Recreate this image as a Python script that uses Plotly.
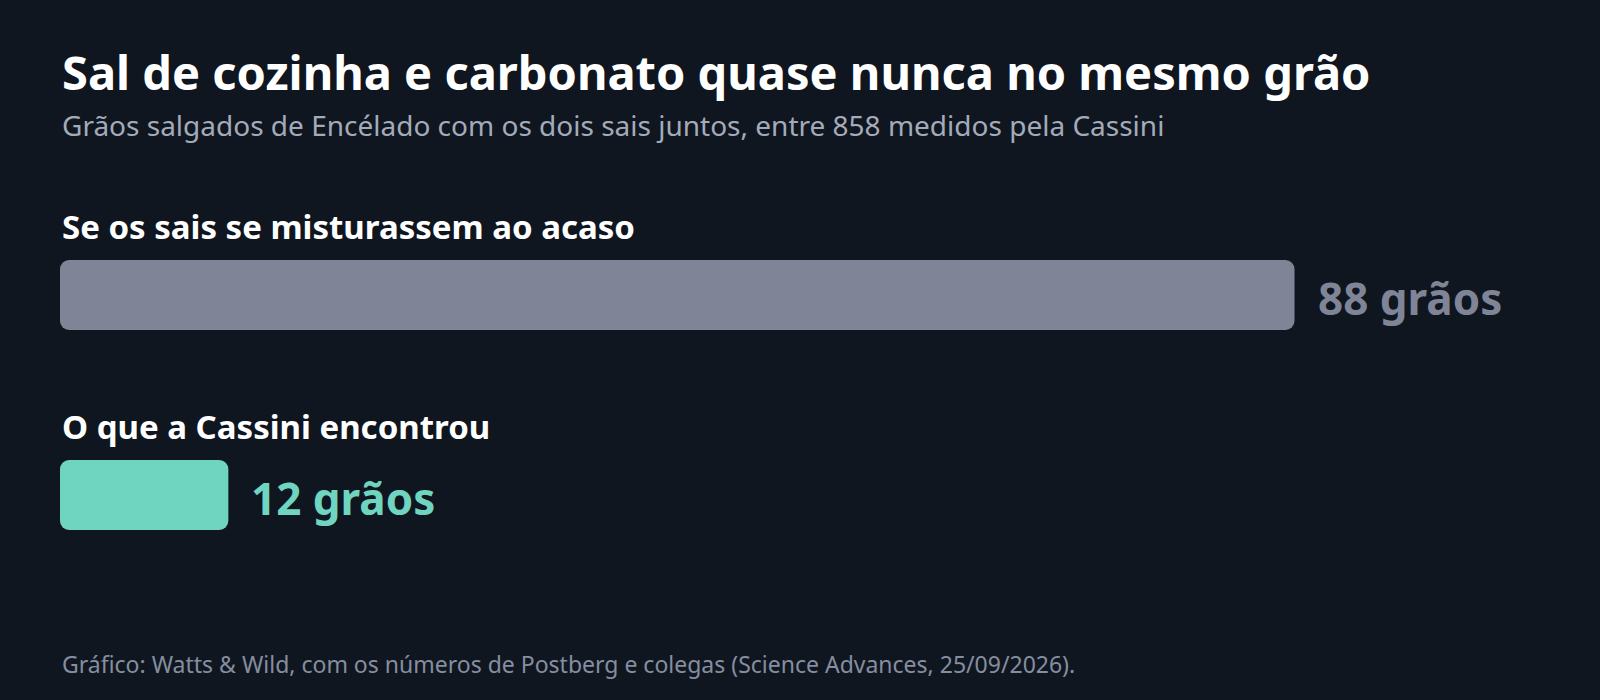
import plotly.graph_objects as go

# dados
categorias = ["Se os sais se misturassem ao acaso", "O que a Cassini encontrou"]
valores = [88, 12]
rotulos = ["88 grãos", "12 grãos"]
cores = ["#7f8597", "#6fd4c0"]

titulo = "Sal de cozinha e carbonato quase nunca no mesmo grão"
subtitulo = "Grãos salgados de Encélado com os dois sais juntos, entre 858 medidos pela Cassini"
fonte = "Gráfico: Watts & Wild, com os números de Postberg e colegas (Science Advances, 25/09/2026)."

FONT = "Noto Sans"
BG = "#10161f"
H = 700


def py(px):
    # pixel vertical -> coordenada paper
    return 1 - px / H


pos = list(range(len(categorias)))

fig = go.Figure()
# base explícita -> plotly arredonda os quatro cantos
fig.add_trace(go.Bar(
    x=valores, base=[0] * len(valores), y=pos, orientation="h", width=0.35,
    marker=dict(color=cores, line=dict(width=0)), hoverinfo="skip",
))

annotations = []
for i, (cat, val, rot, cor) in enumerate(zip(categorias, valores, rotulos, cores)):
    annotations.append(dict(
        x=0, y=i - 0.345, xref="x", yref="y", text=f"<b>{cat}</b>",
        showarrow=False, xanchor="left", yanchor="middle",
        font=dict(family=FONT, size=33, color="#ffffff"),
    ))
    annotations.append(dict(
        x=val, y=i + 0.015, xref="x", yref="y", text=f"<b>{rot}</b>",
        showarrow=False, xanchor="left", yanchor="middle", xshift=21,
        font=dict(family=FONT, size=44, color=cor),
    ))

annotations += [
    dict(x=0, y=py(72), xref="paper", yref="paper", text=f"<b>{titulo}</b>",
         showarrow=False, xanchor="left", yanchor="middle",
         font=dict(family=FONT, size=47, color="#ffffff")),
    dict(x=0, y=py(125), xref="paper", yref="paper", text=subtitulo,
         showarrow=False, xanchor="left", yanchor="middle",
         font=dict(family=FONT, size=28, color="#a3abba")),
    dict(x=0, y=py(664), xref="paper", yref="paper", text=fonte,
         showarrow=False, xanchor="left", yanchor="middle",
         font=dict(family=FONT, size=23, color="#858ea0")),
]

fig.update_layout(
    width=1600, height=H,
    margin=dict(l=60, r=60, t=0, b=0, autoexpand=False),
    paper_bgcolor=BG, plot_bgcolor=BG,
    barcornerradius=9,
    showlegend=False,
    xaxis=dict(range=[0, 105.5], visible=False, fixedrange=True),
    yaxis=dict(range=[2.025, -1.475], visible=False, fixedrange=True),
    annotations=annotations,
)

fig.write_html(
    "out.html",
    config={"displayModeBar": False},
    post_script="document.body.style.margin='0';document.body.style.background='%s';" % BG,
)
